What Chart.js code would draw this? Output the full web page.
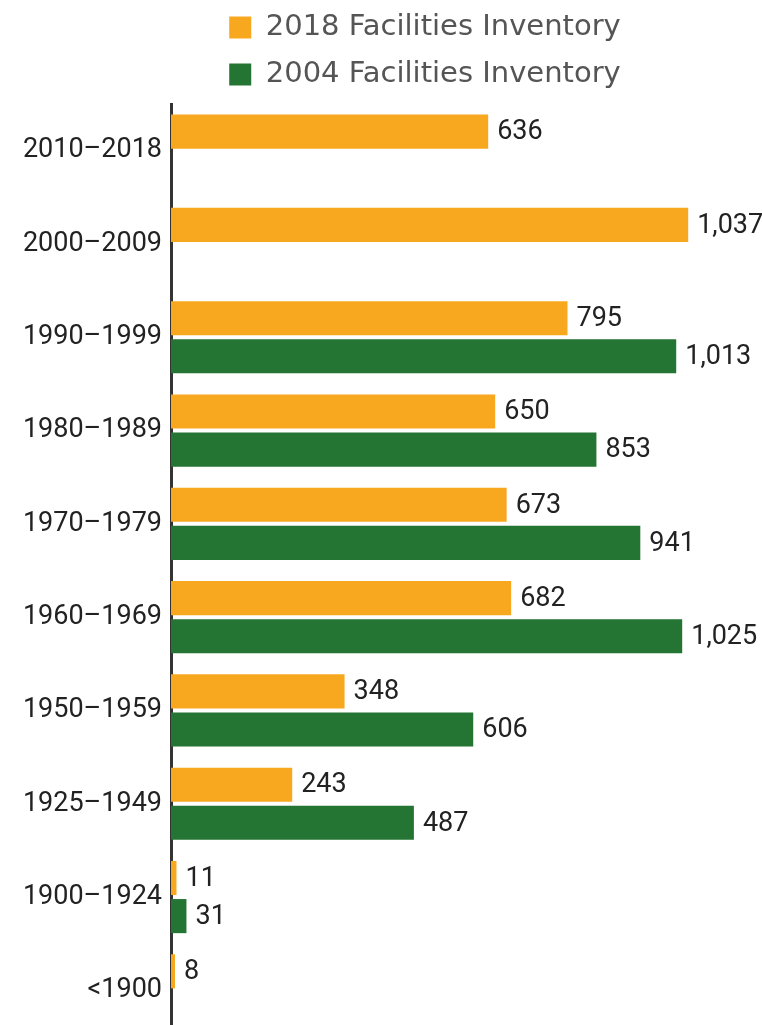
<!DOCTYPE html>
<html>
<head>
<meta charset="utf-8">
<script src="https://cdn.jsdelivr.net/npm/chart.js@4/dist/chart.umd.min.js"></script>
<style>
  html, body { margin: 0; padding: 0; background: #ffffff; overflow: hidden; }
  #wrap { position: relative; width: 762px; height: 1037px; }
</style>
</head>
<body>
<div id="wrap"><canvas id="c"></canvas></div>
<script>
const categories = ['2010–2018', '2000–2009', '1990–1999', '1980–1989', '1970–1979', '1960–1969', '1950–1959', '1925–1949', '1900–1924', '<1900'];
const series2018 = [636, 1037, 795, 650, 673, 682, 348, 243, 11, 8];
const series2004 = [null, null, 1013, 853, 941, 1025, 606, 487, 31, null];
const seriesNames = ['2018 Facilities Inventory', '2004 Facilities Inventory'];
const seriesColors = ['#F8A81E', '#247433'];

const FONT = 'Roboto, "Open Sans", sans-serif';
const LEGEND_FONT = '"DejaVu Sans", sans-serif';

const valueLabels = {
  id: 'valueLabels',
  afterDatasetsDraw(chart) {
    const ctx = chart.ctx;
    ctx.save();
    ctx.font = '27px ' + FONT;
    ctx.fillStyle = '#222222';
    ctx.textAlign = 'left';
    ctx.textBaseline = 'middle';
    chart.data.datasets.forEach((ds, di) => {
      const meta = chart.getDatasetMeta(di);
      meta.data.forEach((bar, i) => {
        const v = ds.data[i];
        if (v === null || v === undefined) return;
        ctx.fillText(v.toLocaleString('en-US'), bar.x + 9, bar.y + 1);
      });
    });
    ctx.restore();
  }
};

const legendShift = {
  id: 'legendShift',
  afterLayout(chart) {
    const lg = chart.legend;
    if (!lg) return;
    lg.left += 44; lg.right += 44;
    lg.top -= 5; lg.bottom -= 5;
  }
};

new Chart(document.getElementById('c'), {
  type: 'bar',
  data: {
    labels: categories,
    datasets: [
      { label: seriesNames[0], data: series2018, backgroundColor: seriesColors[0], categoryPercentage: 0.817, barPercentage: 0.895 },
      { label: seriesNames[1], data: series2004, backgroundColor: seriesColors[1], categoryPercentage: 0.817, barPercentage: 0.895 }
    ]
  },
  options: {
    indexAxis: 'y',
    responsive: true,
    maintainAspectRatio: false,
    animation: false,
    layout: { padding: { left: 0, right: 0, top: 0, bottom: 0 } },
    plugins: {
      legend: {
        position: 'top',
        align: 'center',
        labels: {
          boxWidth: 22, boxHeight: 22, padding: 18,
          color: '#555555',
          font: { family: LEGEND_FONT, size: 29 }
        }
      },
      tooltip: { enabled: false }
    },
    scales: {
      x: { display: false, min: 0, max: 1185 },
      y: {
        grid: { display: false, drawTicks: false },
        border: { display: true, color: '#333333', width: 3 },
        ticks: { color: '#222222', padding: 9, font: { family: FONT, size: 27 } },
        afterFit(scale) { scale.width = 171; scale.paddingTop = 0; scale.paddingBottom = 0; }
      }
    }
  },
  plugins: [valueLabels, legendShift]
});
</script>
</body>
</html>
